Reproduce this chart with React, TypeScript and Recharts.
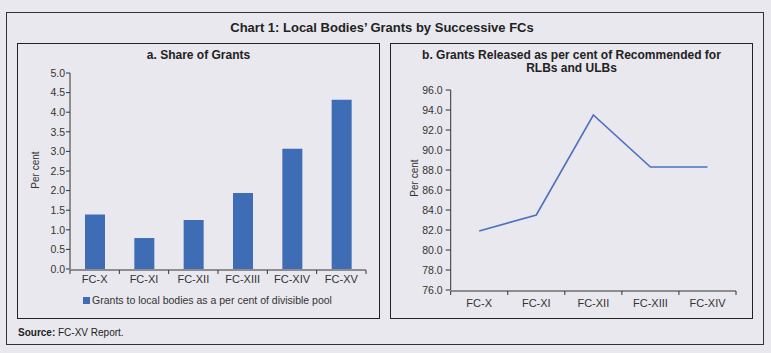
import {
  BarChart,
  Bar,
  LineChart,
  Line,
  XAxis,
  YAxis,
  Legend,
  Label,
} from 'recharts';

const FONT = '"Liberation Sans", Arial, Helvetica, sans-serif';
const BG = '#e9e8ee';
const BAR_COLOR = '#3e6db6';
const LINE_COLOR = '#4a72c0';
const INK = '#333';

// a. Share of Grants
const shareCategories = ['FC-X', 'FC-XI', 'FC-XII', 'FC-XIII', 'FC-XIV', 'FC-XV'];
const shareValues = [1.39, 0.79, 1.25, 1.94, 3.07, 4.32];
const shareTicks = [0, 0.5, 1, 1.5, 2, 2.5, 3, 3.5, 4, 4.5, 5];
const shareEdges = [0, 1, 2, 3, 4, 5, 6];
const shareSeriesName = 'Grants to local bodies as a per cent of divisible pool';

// b. Grants released as per cent of recommended
const releasedCategories = ['FC-X', 'FC-XI', 'FC-XII', 'FC-XIII', 'FC-XIV'];
const releasedValues = [81.9, 83.5, 93.5, 88.3, 88.3];
const releasedTicks = [76, 78, 80, 82, 84, 86, 88, 90, 92, 94, 96];
const releasedEdges = [0, 1, 2, 3, 4, 5];

const shareData = shareCategories.map((name, i) => ({ name, value: shareValues[i], edge: i + 0.5 }));
const releasedData = releasedCategories.map((name, i) => ({ name, value: releasedValues[i], edge: i + 0.5 }));

const emptyTick = () => <g />;

const yLabel = (x: number, y: number) => () =>
  (
    <text
      x={x}
      y={y}
      transform={`rotate(-90 ${x} ${y})`}
      textAnchor="middle"
      dominantBaseline="central"
      fontSize={10}
      fill={INK}
      fontFamily={FONT}
    >
      Per cent
    </text>
  );

const renderLegend = (props: any) => {
  const { payload } = props;
  return (
    <div
      style={{
        height: 14,
        display: 'flex',
        justifyContent: 'center',
        alignItems: 'center',
        fontSize: 10.5,
        color: INK,
        fontFamily: FONT,
        paddingLeft: 32,
      }}
    >
      {(payload || []).map((entry: any, i: number) => (
        <span key={`lg-${i}`} style={{ display: 'flex', alignItems: 'center', gap: 2 }}>
          <span style={{ width: 7, height: 7, background: entry.color, display: 'inline-block' }} />
          {entry.value}
        </span>
      ))}
    </div>
  );
};

const panelStyle = (left: number): React.CSSProperties => ({
  position: 'absolute',
  left,
  top: 43,
  width: 363,
  height: 276,
  boxSizing: 'border-box',
  border: '1.5px solid #222',
});

export default function App() {
  return (
    <div
      style={{
        position: 'relative',
        width: 771,
        height: 353,
        background: BG,
        fontFamily: FONT,
        color: '#222',
        overflow: 'hidden',
      }}
    >
      <style>{'body{margin:0}'}</style>
      <div
        style={{
          position: 'absolute',
          left: 6,
          top: 12,
          width: 758,
          height: 333,
          boxSizing: 'border-box',
          border: '1.5px solid #333',
        }}
      />
      <div
        style={{
          position: 'absolute',
          left: 0,
          top: 20,
          width: 764,
          textAlign: 'center',
          fontSize: 13,
          lineHeight: '16px',
          fontWeight: 'bold',
        }}
      >
        Chart 1: Local Bodies’ Grants by Successive FCs
      </div>

      {/* left panel */}
      <div style={panelStyle(17)} />
      <div
        style={{
          position: 'absolute',
          left: 17,
          top: 48,
          width: 363,
          textAlign: 'center',
          fontSize: 12,
          lineHeight: '15px',
          fontWeight: 'bold',
        }}
      >
        a. Share of Grants
      </div>
      <div style={{ position: 'absolute', left: 17, top: 43 }}>
        <BarChart
          width={363}
          height={276}
          data={shareData}
          margin={{ top: 30, right: 14, bottom: 34, left: 0 }}
          barCategoryGap={0}
        >
          <XAxis
            xAxisId="edge"
            dataKey="edge"
            type="number"
            domain={[0, 6]}
            ticks={shareEdges}
            interval={0}
            allowDataOverflow
            height={1}
            tick={emptyTick}
            tickSize={4}
            axisLine={{ stroke: INK }}
            tickLine={{ stroke: INK }}
          />
          <XAxis
            xAxisId="cat"
            dataKey="name"
            height={1}
            axisLine={false}
            tickLine={false}
            tickSize={4}
            tickMargin={2}
            interval={0}
            tick={{ fontSize: 11, fill: INK, fontFamily: FONT }}
          />
          <YAxis
            width={53}
            domain={[0, 5]}
            ticks={shareTicks}
            interval={0}
            tickFormatter={(v: number) => v.toFixed(1)}
            tick={{ fontSize: 10.5, fill: INK, fontFamily: FONT }}
            tickSize={4}
            tickMargin={1}
            axisLine={{ stroke: INK }}
            tickLine={{ stroke: INK }}
          >
            <Label content={yLabel(18, 127)} />
          </YAxis>
          <Bar
            xAxisId="cat"
            dataKey="value"
            name={shareSeriesName}
            fill={BAR_COLOR}
            barSize={20}
            isAnimationActive={false}
          />
          <Legend
            verticalAlign="bottom"
            content={renderLegend}
            wrapperStyle={{ bottom: 12 }}
          />
        </BarChart>
      </div>

      {/* right panel */}
      <div style={panelStyle(390)} />
      <div
        style={{
          position: 'absolute',
          left: 390,
          top: 49,
          width: 363,
          textAlign: 'center',
          fontSize: 12,
          lineHeight: '13px',
          fontWeight: 'bold',
        }}
      >
        b. Grants Released as per cent of Recommended for
        <br />
        RLBs and ULBs
      </div>
      <div style={{ position: 'absolute', left: 390, top: 43 }}>
        <LineChart
          width={363}
          height={276}
          data={releasedData}
          margin={{ top: 47, right: 17, bottom: 27, left: 0 }}
        >
          <XAxis
            xAxisId="edge"
            dataKey="edge"
            type="number"
            domain={[0, 5]}
            ticks={releasedEdges}
            interval={0}
            allowDataOverflow
            height={1}
            tick={emptyTick}
            tickSize={4}
            axisLine={{ stroke: INK }}
            tickLine={{ stroke: INK }}
          />
          <XAxis
            xAxisId="cat"
            dataKey="name"
            height={1}
            padding={{ left: 28.5, right: 28.5 }}
            axisLine={false}
            tickLine={false}
            tickSize={4}
            tickMargin={5}
            interval={0}
            tick={{ fontSize: 11, fill: INK, fontFamily: FONT }}
          />
          <YAxis
            width={60.7}
            domain={[76, 96]}
            ticks={releasedTicks}
            interval={0}
            tickFormatter={(v: number) => v.toFixed(1)}
            tick={{ fontSize: 10.5, fill: INK, fontFamily: FONT }}
            tickSize={5}
            tickMargin={3}
            axisLine={{ stroke: INK }}
            tickLine={{ stroke: INK }}
          >
            <Label content={yLabel(24, 135)} />
          </YAxis>
          <Line
            xAxisId="cat"
            type="linear"
            dataKey="value"
            stroke={LINE_COLOR}
            strokeWidth={1.6}
            dot={false}
            isAnimationActive={false}
          />
        </LineChart>
      </div>

      <div
        style={{
          position: 'absolute',
          left: 18,
          top: 326,
          fontSize: 10,
          lineHeight: '14px',
        }}
      >
        <b>Source:</b> FC-XV Report.
      </div>
    </div>
  );
}
